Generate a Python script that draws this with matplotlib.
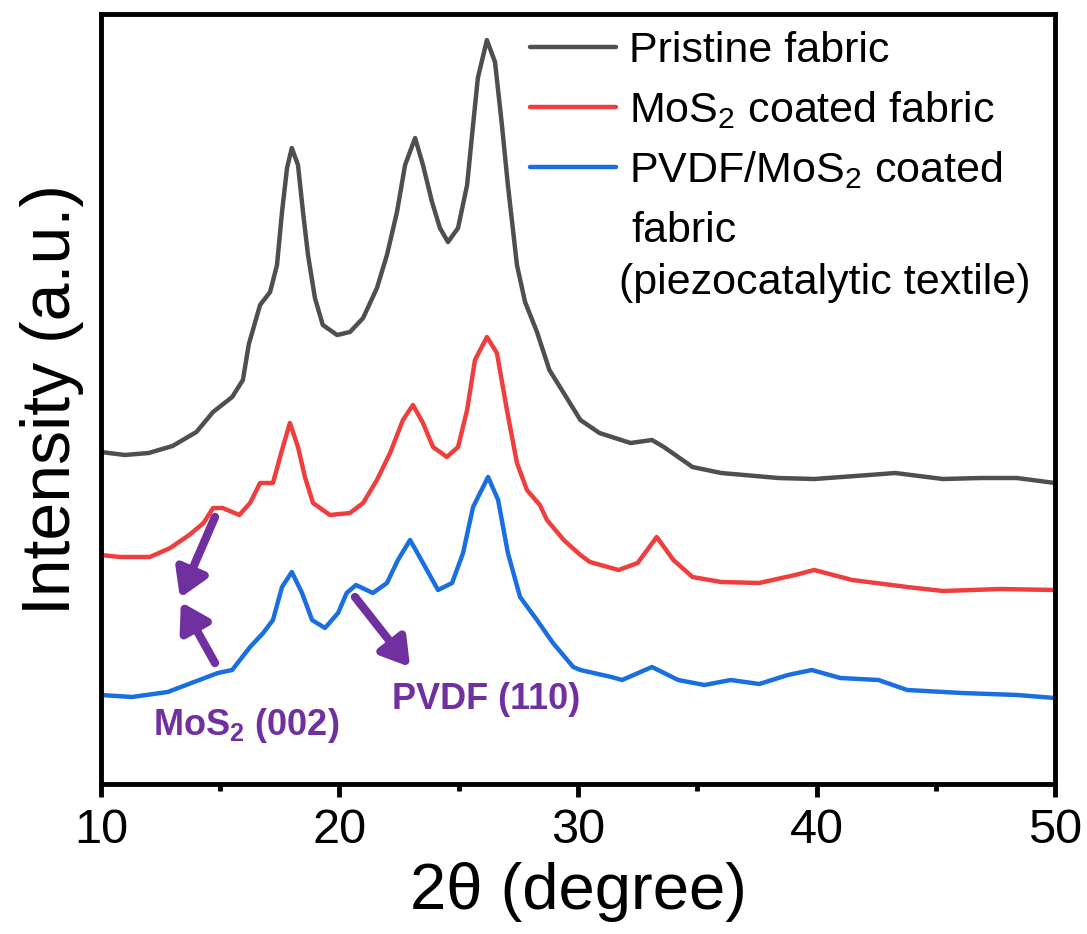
import matplotlib
matplotlib.use('Agg')
import matplotlib.pyplot as plt
from matplotlib.ticker import MultipleLocator

plt.rcParams['font.family'] = ['Liberation Sans', 'DejaVu Sans']
plt.rcParams['mathtext.fontset'] = 'custom'
plt.rcParams['mathtext.rm'] = 'Liberation Sans'
plt.rcParams['mathtext.bf'] = 'Liberation Sans:bold'

# 2theta / intensity (a.u., curves already stacked)
pristine_2t = [10.0, 11.0, 12.0, 13.0, 14.0, 14.7, 15.5, 15.95, 16.2, 16.67, 17.09, 17.38,
               17.59, 17.8, 18.0, 18.26, 18.47, 18.68, 18.97, 19.3, 19.9, 20.44, 20.99, 21.57,
               21.99, 22.41, 22.75, 23.17, 23.5, 23.88, 24.21, 24.55, 24.97, 25.35, 25.6, 25.8,
               26.18, 26.52, 26.81, 27.06, 27.44, 27.78, 28.28, 28.8, 29.4, 30.1, 30.9, 32.2,
               33.1, 33.6, 34.8, 36.0, 38.4, 39.9, 42.2, 43.3, 45.3, 46.9, 48.4, 50.0]
pristine_int = [332, 329, 331, 338, 352, 372, 387, 404, 440, 479, 492, 519,
                572, 616, 636, 619, 572, 529, 486, 459, 449, 452, 466, 496,
                529, 572, 619, 646, 619, 582, 556, 542, 556, 599, 659, 706,
                744, 722, 659, 599, 519, 482, 452, 414, 391, 364, 351, 341,
                344, 337, 317, 311, 306, 305, 309, 311, 305, 306, 306, 301]

mos2_2t = [10.0, 10.8, 12.05, 12.9, 13.7, 14.3, 14.7, 15.1, 15.8, 16.25, 16.67, 17.21, 17.59,
           17.92, 18.26, 18.55, 18.89, 19.6, 20.44, 20.99, 21.57, 22.12, 22.66, 23.08, 23.5,
           23.92, 24.5, 24.97, 25.35, 25.68, 26.18, 26.6, 27.02, 27.44, 27.86, 28.4, 28.7,
           29.4, 30.1, 30.5, 31.7, 32.5, 33.3, 34.0, 34.8, 36.0, 37.6, 39.1, 39.9, 41.5,
           43.8, 45.3, 47.7, 50.0]
mos2_int = [229, 227, 227, 236, 249, 261, 276, 276, 269, 281, 301, 301, 334,
            361, 337, 307, 281, 269, 271, 281, 304, 331, 364, 379, 361,
            337, 327, 337, 374, 424, 447, 431, 374, 321, 294, 279, 264,
            244, 229, 222, 214, 221, 247, 224, 207, 202, 201, 209, 214, 204,
            197, 193, 195, 194]

pvdf_2t = [10.0, 11.3, 12.8, 13.9, 14.9, 15.5, 16.25, 16.8, 17.21, 17.59, 18.0, 18.43, 18.85,
           19.39, 19.94, 20.3, 20.69, 21.4, 21.99, 22.45, 22.96, 23.5, 24.13, 24.72, 25.18,
           25.6, 26.23, 26.65, 27.06, 27.57, 28.28, 28.95, 29.8, 30.1, 31.4, 31.85, 33.1,
           34.2, 35.3, 36.4, 37.6, 38.8, 39.8, 41.0, 42.6, 43.8, 46.1, 48.4, 50.0]
pvdf_int = [89, 87, 92, 102, 111, 114, 137, 151, 164, 197, 212, 191, 164,
            156, 171, 191, 199, 191, 201, 224, 244, 221, 194, 201, 231,
            277, 307, 284, 231, 187, 164, 141, 117, 114, 107, 104, 117,
            104, 99, 104, 100, 109, 114, 106, 104, 94, 91, 89, 86]

purple = '#7030A0'

fig = plt.figure(figsize=(10.87, 9.34), dpi=100)
ax = fig.add_axes([0.0929, 0.1606, 0.8777, 0.8244])

style = dict(lw=3.2, solid_joinstyle='round', solid_capstyle='round')
ax.plot(pristine_2t, pristine_int, color='#4f4f4f', label='Pristine fabric', **style)
ax.plot(mos2_2t, mos2_int, color='#ef3e3e', label='MoS$_2$ coated fabric', **style)
ax.plot(pvdf_2t, pvdf_int, color='#1a6fdf', label='PVDF/MoS$_2$ coated', **style)

ax.set_xlim(10, 50)
ax.set_ylim(0, 770)
ax.xaxis.set_major_locator(MultipleLocator(10))
ax.xaxis.set_minor_locator(MultipleLocator(5))
ax.set_yticks([])
for s in ax.spines.values():
    s.set_linewidth(3.5)
ax.tick_params(axis='x', which='major', direction='out', length=9.5, width=3.5,
               labelsize=35, pad=8)
ax.tick_params(axis='x', which='minor', direction='out', length=5, width=3.5)
ax.set_xlabel('2θ (degree)', fontsize=47, labelpad=6)
ax.set_ylabel('Intensity (a.u.)', fontsize=49, labelpad=12)

leg = ax.legend(loc='upper left', bbox_to_anchor=(0.4497, 0.978), frameon=False,
                fontsize=31, handlelength=2.0, handletextpad=0.3, borderpad=0,
                borderaxespad=0, labelspacing=0.42)
ax.text(0.5556, 0.704, 'fabric', transform=ax.transAxes, fontsize=31, va='baseline')
ax.text(0.5430, 0.637, '(piezocatalytic textile)', transform=ax.transAxes, fontsize=31,
        va='baseline')

# peak markers
arrow = dict(arrowstyle='-|>,head_length=0.9,head_width=0.55', color=purple, lw=6,
             shrinkA=0, shrinkB=0, mutation_scale=18)
ax.annotate('', xy=(13.31, 186), xytext=(14.78, 267), arrowprops=arrow)
ax.annotate('', xy=(13.35, 182), xytext=(14.78, 121), arrowprops=arrow)
ax.annotate('', xy=(22.96, 117), xytext=(20.65, 187), arrowprops=arrow)
ax.text(12.18, 49, r'MoS$_\mathbf{2}$ (002)', color=purple, fontsize=26, fontweight='bold',
        va='baseline')
ax.text(22.2, 75, 'PVDF (110)', color=purple, fontsize=26, fontweight='bold', va='baseline')

fig.savefig('out.png', dpi=100)
